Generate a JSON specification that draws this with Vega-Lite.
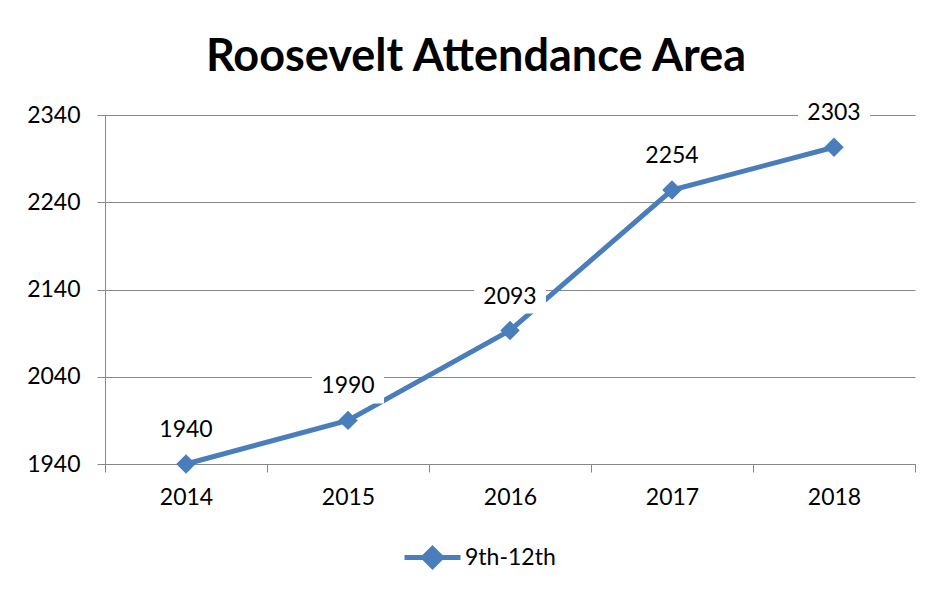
{
  "$schema": "https://vega.github.io/schema/vega-lite/v6.json",
  "autosize": "none",
  "padding": {"left": 105, "top": 115, "right": 19, "bottom": 129},
  "width": 810,
  "height": 349,
  "background": "white",
  "title": {
    "text": "Roosevelt Attendance Area",
    "font": "Lato",
    "fontSize": 45,
    "fontWeight": "bold",
    "color": "black",
    "anchor": "middle",
    "frame": "group",
    "baseline": "alphabetic",
    "dx": -34,
    "offset": -22
  },
  "data": {
    "values": [
      {"year": "2014", "students": 1940, "series": "9th-12th"},
      {"year": "2015", "students": 1990, "series": "9th-12th"},
      {"year": "2016", "students": 2093, "series": "9th-12th"},
      {"year": "2017", "students": 2254, "series": "9th-12th"},
      {"year": "2018", "students": 2303, "series": "9th-12th"}
    ]
  },
  "encoding": {
    "x": {
      "field": "year",
      "type": "ordinal",
      "bandPosition": 0.5,
      "scale": {"type": "band", "paddingInner": 0, "paddingOuter": 0},
      "axis": {
        "title": null,
        "labelAngle": 0,
        "tickBand": "extent",
        "tickSize": 8,
        "labelPadding": 14,
        "grid": false,
        "domainColor": "#878787",
        "tickColor": "#878787",
        "labelFont": "Lato",
        "labelFontSize": 23,
        "labelColor": "black"
      }
    },
    "y": {
      "field": "students",
      "type": "quantitative",
      "scale": {"domain": [1940, 2340], "nice": false, "zero": false},
      "axis": {
        "title": null,
        "values": [1940, 2040, 2140, 2240, 2340],
        "format": "d",
        "tickSize": 8,
        "labelPadding": 17,
        "grid": true,
        "gridColor": "#878787",
        "gridWidth": 1,
        "domainColor": "#878787",
        "tickColor": "#878787",
        "labelFont": "Lato",
        "labelFontSize": 23,
        "labelColor": "black"
      }
    }
  },
  "layer": [
    {
      "mark": {"type": "line", "strokeWidth": 5},
      "encoding": {
        "color": {
          "field": "series",
          "type": "nominal",
          "scale": {"range": ["#4A7EBB"]},
          "legend": {
            "title": null,
            "orient": "none",
            "legendX": 297,
            "legendY": 412,
            "padding": 0,
            "symbolType": "M-1,0H1M-0.32,0L0,-0.32L0.32,0L0,0.32Z",
            "symbolSize": 3136,
            "symbolStrokeWidth": 5,
            "symbolFillColor": "#4A7EBB",
            "symbolStrokeColor": "#4A7EBB",
            "symbolOpacity": 1,
            "labelFont": "Lato",
            "labelFontSize": 23,
            "labelColor": "black",
            "labelOffset": 2
          }
        }
      }
    },
    {
      "mark": {"type": "point", "shape": "diamond", "filled": true, "size": 380, "opacity": 1},
      "encoding": {
        "color": {"field": "series", "type": "nominal"}
      }
    },
    {
      "mark": {
        "type": "point",
        "shape": "M-1,-0.5H1V0.5H-1Z",
        "size": 5184,
        "filled": true,
        "color": "white",
        "opacity": 1,
        "yOffset": -35
      }
    },
    {
      "mark": {
        "type": "text",
        "font": "Lato",
        "fontSize": 23,
        "color": "black",
        "baseline": "middle",
        "align": "center",
        "yOffset": -34
      },
      "encoding": {
        "text": {"field": "students", "type": "quantitative", "format": "d"}
      }
    }
  ],
  "config": {
    "view": {"stroke": null}
  }
}
